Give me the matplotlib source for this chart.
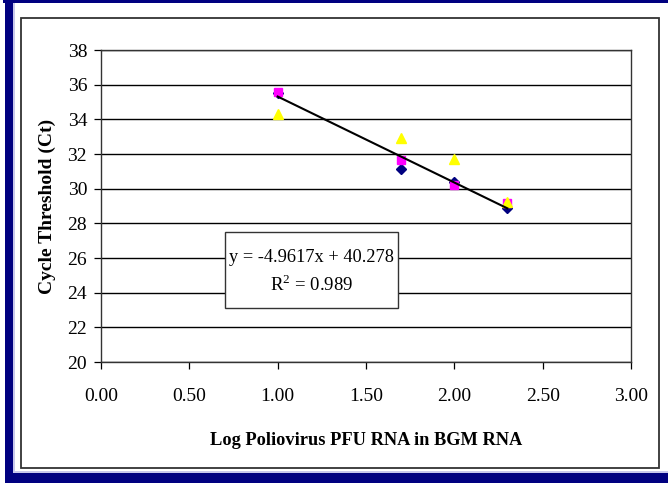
import matplotlib
matplotlib.use("Agg")
import matplotlib.pyplot as plt
from matplotlib.patches import Rectangle
import numpy as np

W, H = 668, 483

x_vals = [1.0, 1.7, 2.0, 2.3]
series_diamond = [35.5, 31.15, 30.4, 28.9]
series_square = [35.55, 31.65, 30.2, 29.2]
series_triangle = [34.3, 32.95, 31.7, 29.25]
slope, intercept = -4.9617, 40.278
r2 = 0.989
x_ticks = [0.0, 0.5, 1.0, 1.5, 2.0, 2.5, 3.0]
y_ticks = [20, 22, 24, 26, 28, 30, 32, 34, 36, 38]

plt.rcParams['font.family'] = ['Liberation Serif', 'DejaVu Serif']
plt.rcParams['mathtext.fontset'] = 'custom'
plt.rcParams['mathtext.rm'] = 'Liberation Serif'

fig = plt.figure(figsize=(W / 100, H / 100), dpi=100)

def fx(px):
    return px / W

def fy(py):
    return 1 - py / H

def frect(x0, y0, x1, y1, **kw):
    r = Rectangle((fx(x0), fy(y1)), fx(x1) - fx(x0), fy(y0) - fy(y1),
                  transform=fig.transFigure, **kw)
    fig.patches.append(r)

# navy outer border bands
navy = '#000080'
frect(5, -2, 13, 485, facecolor=navy, edgecolor='none')
frect(3, 0, 670, 3, facecolor=navy, edgecolor='none')
frect(5, 473, 670, 485, facecolor=navy, edgecolor='none')
frect(13, 3, 15, 473, facecolor='#c8c8ec', edgecolor='none')
frect(13, 471, 670, 473, facecolor='#c8c8ec', edgecolor='none')
# inner chart frame
frect(21, 18, 659, 468, facecolor='none', edgecolor='#333333', linewidth=1.3)

ax = fig.add_axes([fx(101), fy(362), fx(631) - fx(101), fy(50) - fy(362)])
ax.set_xlim(0, 3)
ax.set_ylim(20, 38)
ax.set_xticks(x_ticks)
ax.set_xticklabels([f"{t:.2f}" for t in x_ticks])
ax.set_yticks(y_ticks)
ax.tick_params(direction='out', length=5, width=0.9, colors='black', labelsize=14, pad=5)
ax.tick_params(axis='x', pad=14)
ax.yaxis.grid(True, color='black', linewidth=1.0)
ax.set_axisbelow(True)
for s in ax.spines.values():
    s.set_color('#333333')
    s.set_linewidth(1.0)

ax.plot(x_vals, series_diamond, linestyle='none', marker='D', markersize=5,
        color='#000080', zorder=3)
ax.plot(x_vals, series_square, linestyle='none', marker='s', markersize=6,
        color='#ff00ff', zorder=4)
ax.plot(x_vals, series_triangle, linestyle='none', marker='^', markersize=7,
        color='#ffff00', zorder=5)

xl = np.array([min(x_vals), max(x_vals)])
ax.plot(xl, slope * xl + intercept, color='black', linewidth=1.5, zorder=6)

ax.set_xlabel('Log Poliovirus PFU RNA in BGM RNA', fontsize=13.2, fontweight='bold', labelpad=19)
ax.set_ylabel('Cycle Threshold (Ct)', fontsize=14, fontweight='bold', labelpad=8)

# equation box
frect(225, 232, 398, 308, facecolor='white', edgecolor='#333333', linewidth=1.0)
fig.text(fx(311.5), fy(257), f"y = {slope}x + {intercept}", ha='center', va='center', fontsize=13.2)
fig.text(fx(311.5), fy(285), f"R$^{{2}}$ = {r2}", ha='center', va='center', fontsize=13.5)

fig.savefig('out.png', dpi=100)
